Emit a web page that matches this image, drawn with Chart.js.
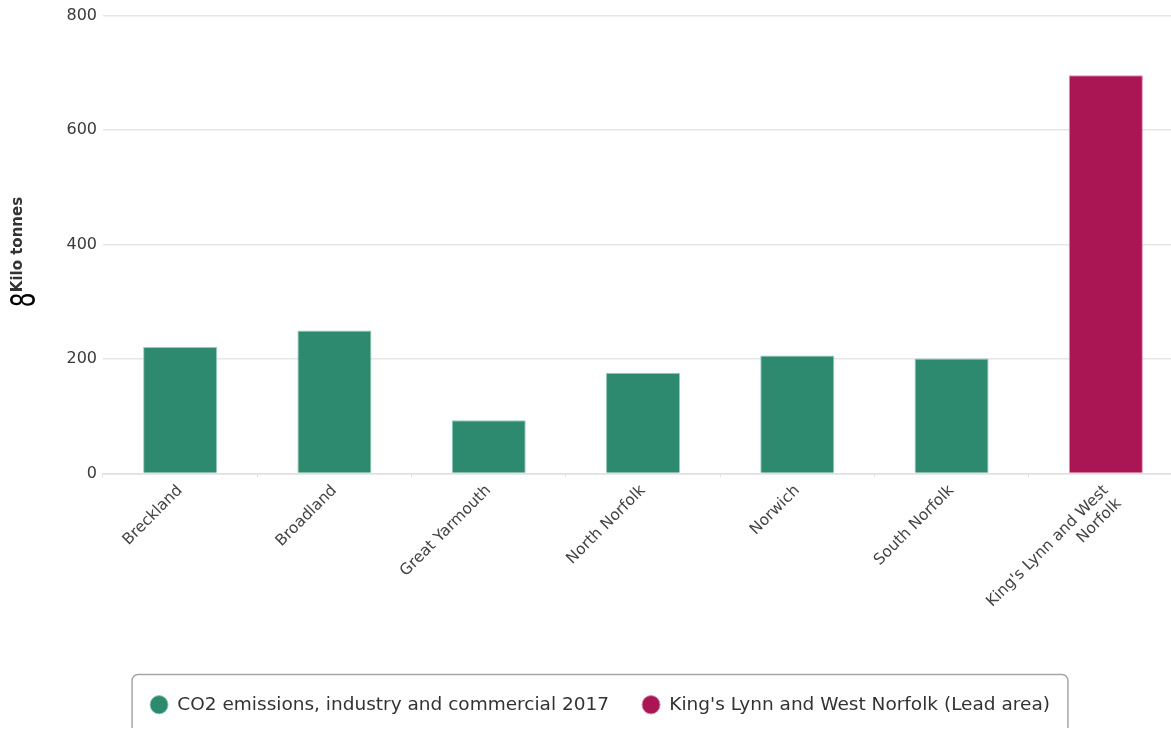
<!DOCTYPE html>
<html>
<head>
<meta charset="utf-8">
<script src="https://cdn.jsdelivr.net/npm/chart.js@4.4.1/dist/chart.umd.min.js"></script>
<style>
  html, body { margin: 0; padding: 0; overflow: hidden; background: #fff; }
  .chart-container { position: relative; width: 1200px; height: 728px; }
</style>
</head>
<body>
<div class="chart-container">
  <canvas id="chart"></canvas>
</div>
<script>
const categories = [
  'Breckland',
  'Broadland',
  'Great Yarmouth',
  'North Norfolk',
  'Norwich',
  'South Norfolk',
  ["King's Lynn and West", 'Norfolk'],
];
// comparison areas, lead area left empty
const emissions = [221, 250, 93, 176, 206, 201, null];
// lead area only
const leadArea = [null, null, null, null, null, null, 696];
const yTicks = [0, 200, 400, 600, 800];

const GREEN = '#2e8a6e';
const MAGENTA = '#aa1654';
const FONT = "'DejaVu Sans', sans-serif";

// rounded box round the legend items, plus the odd glyph by the axis title
const extras = {
  id: 'extras',
  afterLayout(chart) {
    // centre the legend on the whole canvas, not on the padded area
    chart.legend.left += 8.5;
    chart.legend.right += 8.5;
  },
  afterDraw(chart) {
    const ctx = chart.ctx;
    const boxes = chart.legend.legendHitBoxes;
    if (boxes && boxes.length) {
      const left = Math.min(...boxes.map(b => b.left)) - 18;
      const right = Math.max(...boxes.map(b => b.left + b.width)) + 18;
      const top = boxes[0].top - 21;
      const bottom = boxes[0].top + boxes[0].height + 21;
      ctx.save();
      ctx.strokeStyle = '#a6a6a6';
      ctx.lineWidth = 1.5;
      ctx.beginPath();
      ctx.roundRect(left, top, right - left, bottom - top, 6);
      ctx.stroke();
      ctx.restore();
    }
    ctx.save();
    ctx.translate(26, 300);
    ctx.rotate(-Math.PI / 2);
    ctx.scale(0.68, 1);
    ctx.fillStyle = '#000';
    ctx.font = '34px ' + FONT;
    ctx.textAlign = 'center';
    ctx.textBaseline = 'middle';
    ctx.fillText('8', 0, 0);
    ctx.restore();
  },
};

const chartConfig = {
  type: 'bar',
  data: {
    labels: categories,
    datasets: [
      {
        label: 'CO2 emissions, industry and commercial 2017',
        data: emissions,
        backgroundColor: GREEN,
        borderColor: 'rgba(140, 200, 180, 0.9)',
        borderWidth: 1,
        barPercentage: 0.8,
        categoryPercentage: 0.6,
        skipNull: true,
        grouped: false,
      },
      {
        label: "King's Lynn and West Norfolk (Lead area)",
        data: leadArea,
        backgroundColor: MAGENTA,
        borderColor: 'rgba(220, 130, 170, 0.9)',
        borderWidth: 1,
        barPercentage: 0.8,
        categoryPercentage: 0.6,
        skipNull: true,
        grouped: false,
      },
    ],
  },
  options: {
    responsive: true,
    maintainAspectRatio: false,
    animation: false,
    devicePixelRatio: 1,
    layout: { padding: { top: 5, right: 17, bottom: 4, left: 0 } },
    scales: {
      x: {
        grid: {
          display: true,
          drawOnChartArea: false,
          drawTicks: true,
          tickLength: 4,
          color: '#e3e3e3',
        },
        border: { color: '#e0e0e0', width: 1.5 },
        ticks: {
          color: '#444',
          font: { family: FONT, size: 15.5 },
          maxRotation: 45,
          minRotation: 45,
          padding: 4,
          autoSkip: false,
        },
        afterFit: s => { s.height = 189; },
      },
      y: {
        min: 0,
        max: 800,
        afterBuildTicks: s => { s.ticks = yTicks.map(v => ({ value: v })); },
        grid: { color: '#e6e6e6', drawTicks: false, lineWidth: 1.5 },
        border: { display: false },
        ticks: {
          color: '#3a3a3a',
          font: { family: FONT, size: 16 },
          padding: 6,
        },
        title: {
          display: true,
          text: 'Kilo tonnes',
          color: '#333',
          font: { family: FONT, size: 15, weight: 'bold' },
          padding: { top: 9, bottom: 4 },
        },
        afterFit: s => { s.width = 103; },
      },
    },
    plugins: {
      legend: {
        position: 'bottom',
        labels: {
          usePointStyle: true,
          pointStyle: 'circle',
          boxHeight: 13,
          pointStyleWidth: 18,
          padding: 33,
          color: '#333',
          font: { family: FONT, size: 18.5 },
        },
      },
      tooltip: { enabled: false },
    },
  },
  plugins: [extras],
};

new Chart(document.getElementById('chart'), chartConfig);
</script>
</body>
</html>
